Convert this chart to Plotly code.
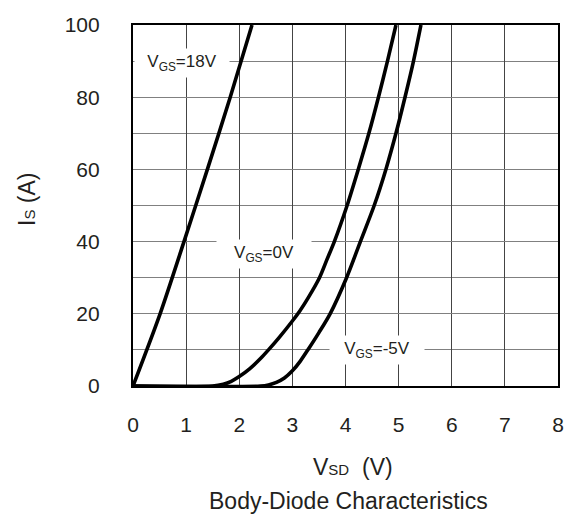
import plotly.graph_objects as go

# VGS = 18V
vsd_18 = [0, 0.51, 0.96, 1.40, 1.83, 2.24]
is_18 = [0, 20, 40, 60, 80, 100]

# VGS = 0V
vsd_0 = [0, 1.5, 1.7, 1.85, 2.0, 2.2, 2.4, 2.55, 2.75, 3.0, 3.14, 3.3, 3.51, 3.65, 3.79, 4.03, 4.24, 4.44, 4.62, 4.79, 4.95]
is_0 = [0, 0, 0.5, 1.3, 2.6, 4.8, 7.6, 10, 13.4, 18.0, 20.8, 24.5, 30, 35, 40, 50, 60, 70, 80, 90, 100]

# VGS = -5V
vsd_m5 = [0, 2.4, 2.55, 2.7, 2.85, 3.0, 3.15, 3.3, 3.5, 3.71, 4.02, 4.28, 4.54, 4.76, 4.95, 5.12, 5.28, 5.42]
is_m5 = [0, 0, 0.3, 1.0, 2.2, 4.2, 6.9, 10.2, 14.8, 20, 30, 40, 50, 60, 70, 80, 90, 100]

labels = ["V<sub>GS</sub>=18V", "V<sub>GS</sub>=0V", "V<sub>GS</sub>=-5V"]
label_pos = [(0.92, 89.6), (2.47, 36.6), (4.6, 10)]

FONT = "Arial, Liberation Sans, sans-serif"
TXT = "#231f20"

# plot area in page pixels: x 133..558, y 25..386 (page has an 8px body margin)
PL, PR, PT, PB = 133, 558, 25, 386
PW, PH = PR - PL, PB - PT

fig = go.Figure()
for xs, ys in [(vsd_18, is_18), (vsd_0, is_0), (vsd_m5, is_m5)]:
    fig.add_trace(go.Scatter(x=xs, y=ys, mode="lines",
                             line=dict(color="black", width=3.6, shape="spline", smoothing=0.8),
                             showlegend=False, hoverinfo="skip"))

for txt, (lx, ly) in zip(labels, label_pos):
    fig.add_annotation(x=lx, y=ly, text=txt, showarrow=False,
                       font=dict(family=FONT, size=17, color=TXT),
                       bgcolor="white", width=92, height=26)

fig.add_annotation(xref="paper", yref="paper", x=(353 - PL) / PW, y=-(467 - PB) / PH,
                   text="V<span style='font-size:15px'>SD</span>  (V)", showarrow=False,
                   font=dict(family=FONT, size=23, color=TXT), yanchor="middle")
fig.add_annotation(xref="paper", yref="paper", x=(348 - PL) / PW, y=-(501 - PB) / PH,
                   text="Body-Diode Characteristics", showarrow=False,
                   font=dict(family=FONT, size=23, color=TXT), yanchor="middle")
fig.add_annotation(xref="paper", yref="paper", x=-(PL - 27) / PW, y=(PB - 200) / PH,
                   text="I<span style='font-size:15px'>S</span> (A)", showarrow=False, textangle=-90,
                   font=dict(family=FONT, size=23, color=TXT), xanchor="center", yanchor="middle")

fig.update_layout(
    width=566, height=506,
    margin=dict(l=PL - 8, r=574 - PR, t=PT - 8, b=514 - PB),
    paper_bgcolor="white", plot_bgcolor="white",
    font=dict(family=FONT, color=TXT),
)
fig.update_xaxes(range=[0, 8], dtick=1, tick0=0, showgrid=True, gridcolor="#444444", gridwidth=1,
                 showline=True, linecolor="black", linewidth=2.2, mirror=True, automargin=False,
                 ticks="", ticklabelstandoff=19, tickfont=dict(size=21, color=TXT), zeroline=False)
fig.update_yaxes(range=[0, 100], dtick=20, tick0=0, showgrid=True, gridcolor="#808080", gridwidth=1,
                 minor=dict(dtick=10, showgrid=True, gridcolor="#808080", gridwidth=1),
                 showline=True, linecolor="black", linewidth=2.2, mirror=True, automargin=False,
                 ticks="", ticklabelstandoff=27, tickfont=dict(size=21, color=TXT), zeroline=False)

fig.write_html("out.html")
